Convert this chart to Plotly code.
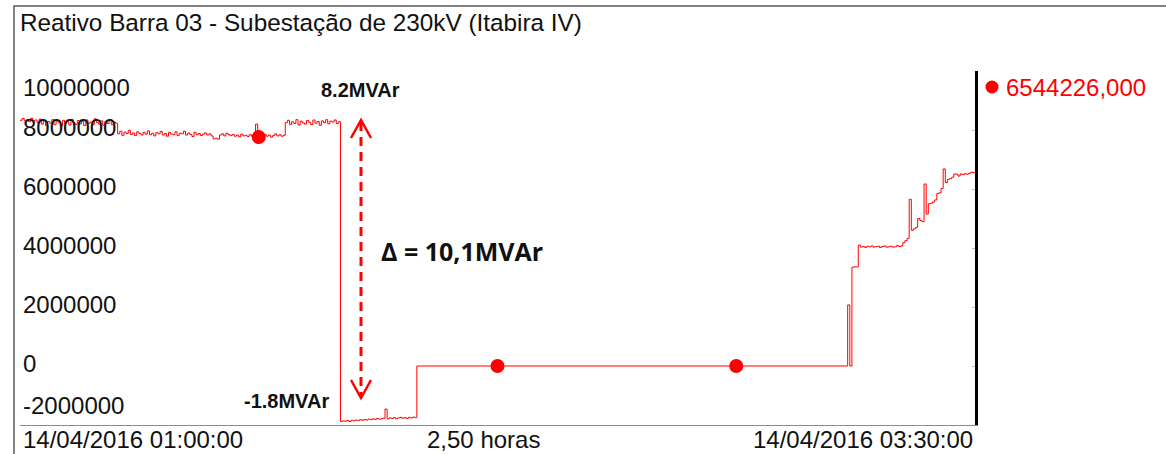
import numpy as np
import pandas as pd
import plotly.graph_objects as go

# ---- measurement window -------------------------------------------------
START = pd.Timestamp("2016-04-14 01:00:00")
WINDOW_S = 9000          # 2.5 h
STEP_S = 20              # sampling period of the recorder, s

# ---- reactive power, kVAr (one value per STEP_S) -----------------------
# 01:00:00 -> capacitor bank in service
q_before_kvar = [
    8330, 8390, 8310, 8360, 8280, 8400, 8300, 8340, 8250, 8370,
    8200, 8310, 8150, 8290, 8230, 8350, 8180, 8300, 8260, 8140,
    8330, 8220, 8280, 8170, 8360, 8240, 8190, 8320, 8210, 8290,
    8150, 8340, 8230, 8270, 8180, 8380, 8250, 8200, 8310, 8160,
    8290, 8220, 8350, 8180, 8270, 8230,
    7870, 7960, 7820, 7930, 7880, 7990, 7850, 7900, 7810, 7940,
    7880, 7830, 7920, 7860, 7970, 7840, 7890, 7800, 7910, 7870,
    7950, 7830, 7880, 7790, 7920, 7860, 7840, 7940, 7810, 7890,
    7870, 7960, 7830, 7900, 7850, 7780, 7920, 7840, 7880, 7810,
    7860, 7900, 7830, 7870, 7800,
    7700, 7720, 7690,
    7830, 7870, 7800, 7890, 7840, 7810,
    7850, 7790, 7830, 7770, 7860, 7800, 7820, 7780, 7840, 7790, 7810,
    8200,
    7760,
    7820, 7780, 7850, 7790, 7830, 7760, 7810, 7870, 7800, 7840, 7790, 7820,
    8250, 8330, 8190, 8280, 8220, 8350, 8170, 8300, 8240, 8200,
    8320, 8260, 8180, 8340, 8230, 8290, 8160, 8310, 8250, 8350,
    8210, 8300, 8270, 8340, 8220, 8280,
]
# 01:50:20 -> after the trip
q_trip_kvar = [
    -1880, -1860, -1870, -1850, -1880, -1840, -1860, -1830, -1850, -1820,
    -1840, -1810, -1830, -1800, -1820, -1790, -1810, -1780, -1800, -1790,
    -1770, -1460, -1790, -1760, -1780, -1750, -1790, -1760, -1740, -1770,
    -1750, -1780, -1740, -1760, -1730, -1750,
]
# 02:02:20 -> bar de-energised
q_idle_kvar = [0]
# 03:10:00 -> return to service
q_return_kvar = [
    2070, 0, 3350, 3360, 3360, 4100, 4030, 4050, 4020, 4060,
    4040, 4070, 4030, 4050, 4060, 4020, 4050, 4070, 4030, 4040,
    4060, 4030, 4040, 4080, 4050, 4070, 4180, 4250, 4330, 5650,
    4600, 4650, 4700, 5000, 4930, 4890, 6170, 5150, 5500, 5520,
    5560, 5630, 5850, 5870, 6020, 6680, 6220, 6330, 6350, 6400,
    6510, 6500, 6440, 6510, 6490, 6520, 6500, 6530, 6570, 6550,
    6544.226,
]
segment_start_s = [0, 3020, 3740, 7800]
segments = [q_before_kvar, q_trip_kvar, q_idle_kvar, q_return_kvar]

y_ticks = [-2000000, 0, 2000000, 4000000, 6000000, 8000000, 10000000]
marker_offsets_s = [2250, 4500, 6750]

TITLE = "Reativo Barra 03 - Subestação de 230kV (Itabira IV)"
LABEL_HIGH = "8.2MVAr"
LABEL_LOW = "-1.8MVAr"
LABEL_DELTA = "Δ = 10,1MVAr"

RED = "#ff0000"
FONT = "Liberation Sans, Arial, sans-serif"

# ---- series --------------------------------------------------------------
t_s = np.concatenate([s + STEP_S * np.arange(len(v))
                      for s, v in zip(segment_start_s, segments)])
q_var = np.concatenate([np.asarray(v, dtype=float) for v in segments]) * 1000.0
times = START + pd.to_timedelta(t_s, unit="s")
END = START + pd.Timedelta(seconds=WINDOW_S)

idx = np.searchsorted(t_s, marker_offsets_s, side="right") - 1
m_times = START + pd.to_timedelta(marker_offsets_s, unit="s")
m_vals = q_var[idx]

last_txt = f"{q_var[-1]:.3f}".replace(".", ",")
span_txt = f"{WINDOW_S / 3600:.2f}".replace(".", ",") + " horas"

# ---- page geometry -------------------------------------------------------
W, H = 1166, 454
PL, PR, PT, PB = 20, 975, 71, 425


def px(x):
    return (x - PL) / (PR - PL)


def py(y):
    return (PB - y) / (PB - PT)


fig = go.Figure()
fig.add_trace(go.Scatter(x=times, y=q_var, mode="lines",
                         line=dict(color=RED, width=1, shape="hv"),
                         hoverinfo="x+y", name="Reativo"))
fig.add_trace(go.Scatter(x=m_times, y=m_vals, mode="markers",
                         marker=dict(color=RED, size=14), hoverinfo="skip",
                         name="Reativo"))

ann = []
# y tick labels drawn inside the plot
for v in y_ticks:
    shift = 3
    if v == max(y_ticks):
        shift = -16
    elif v == min(y_ticks):
        shift = 20
    ann.append(dict(x=0, xref="paper", xanchor="left", xshift=1,
                    y=v, yref="y", yanchor="middle", yshift=shift,
                    text=f"{v:.0f}", showarrow=False,
                    font=dict(size=24, color="#111", family=FONT)))
# time axis labels
ann.append(dict(x=START, xref="x", xanchor="left", xshift=1,
                y=py(439), yref="paper", yanchor="middle",
                text=START.strftime("%d/%m/%Y %H:%M:%S"), showarrow=False,
                font=dict(size=24, color="#111", family=FONT)))
ann.append(dict(x=END, xref="x", xanchor="right",
                y=py(439), yref="paper", yanchor="middle",
                text=END.strftime("%d/%m/%Y %H:%M:%S"), showarrow=False,
                font=dict(size=24, color="#111", family=FONT)))
ann.append(dict(x=px(483), xref="paper", xanchor="center",
                y=py(439), yref="paper", yanchor="middle",
                text=span_txt, showarrow=False,
                font=dict(size=24, color="#111", family=FONT)))
# current value
ann.append(dict(x=px(1004), xref="paper", xanchor="left",
                y=py(87), yref="paper", yanchor="middle",
                text=last_txt, showarrow=False,
                font=dict(size=24, color=RED, family=FONT)))
# step annotations
ann.append(dict(x=px(360), xref="paper", xanchor="center",
                y=py(90), yref="paper", yanchor="middle",
                text=f"<b>{LABEL_HIGH}</b>", showarrow=False,
                font=dict(size=20, color="#111", family=FONT)))
ann.append(dict(x=px(286), xref="paper", xanchor="center",
                y=py(401), yref="paper", yanchor="middle",
                text=f"<b>{LABEL_LOW}</b>", showarrow=False,
                font=dict(size=20, color="#111", family=FONT)))
ann.append(dict(x=px(379), xref="paper", xanchor="left",
                y=py(251), yref="paper", yanchor="middle",
                text=f"<b>{LABEL_DELTA}</b>", showarrow=False,
                font=dict(size=25, color="#111", family="Open Sans, sans-serif")))

shapes = []
# outer frame (top and left)
shapes.append(dict(type="path", xref="paper", yref="paper",
                   path=f"M {px(14)},{py(454)} L {px(14)},{py(6)} L {px(1166)},{py(6)}",
                   line=dict(color="#5a5a5a", width=1.5)))
# legend dot for the current value
shapes.append(dict(type="circle", xref="paper", yref="paper",
                   xsizemode="pixel", ysizemode="pixel",
                   xanchor=px(992), yanchor=py(87),
                   x0=-6.5, x1=6.5, y0=-6.5, y1=6.5,
                   fillcolor=RED, line=dict(width=0)))
# dashed double arrow
AX, A_TOP, A_BOT, HW, HH = 361, 120, 398, 10, 18
shapes.append(dict(type="line", xref="paper", yref="paper",
                   x0=px(AX), x1=px(AX), y0=py(A_TOP + 2), y1=py(A_BOT - 2),
                   line=dict(color=RED, width=3, dash="9px,6px")))
shapes.append(dict(type="path", xref="paper", yref="paper",
                   path=(f"M {px(AX - HW)},{py(A_TOP + HH)} L {px(AX)},{py(A_TOP)} "
                         f"L {px(AX + HW)},{py(A_TOP + HH)}"),
                   line=dict(color=RED, width=2.5)))
shapes.append(dict(type="path", xref="paper", yref="paper",
                   path=(f"M {px(AX - HW)},{py(A_BOT - HH)} L {px(AX)},{py(A_BOT)} "
                         f"L {px(AX + HW)},{py(A_BOT - HH)}"),
                   line=dict(color=RED, width=2.5)))

fig.update_layout(
    width=W, height=H,
    margin=dict(l=PL, r=W - PR, t=PT, b=H - PB),
    paper_bgcolor="white", plot_bgcolor="white",
    showlegend=False,
    font=dict(family=FONT, size=24, color="#111"),
    title=dict(text=TITLE, xref="container", yref="container",
               x=20 / W, y=1 - 22 / H, xanchor="left", yanchor="middle",
               font=dict(size=24.3, color="#111", family=FONT)),
    xaxis=dict(range=[START, END], showgrid=False, zeroline=False,
               showline=True, linecolor="#8c8c8c", linewidth=1,
               showticklabels=False, ticks=""),
    yaxis=dict(range=[min(y_ticks), max(y_ticks)], side="right",
               showgrid=False, zeroline=False, showline=True,
               linecolor="black", linewidth=3, tickvals=y_ticks,
               ticks="inside", ticklen=3, tickcolor="#bbbbbb",
               showticklabels=False),
    annotations=ann, shapes=shapes,
)

fig.write_html("out.html")
